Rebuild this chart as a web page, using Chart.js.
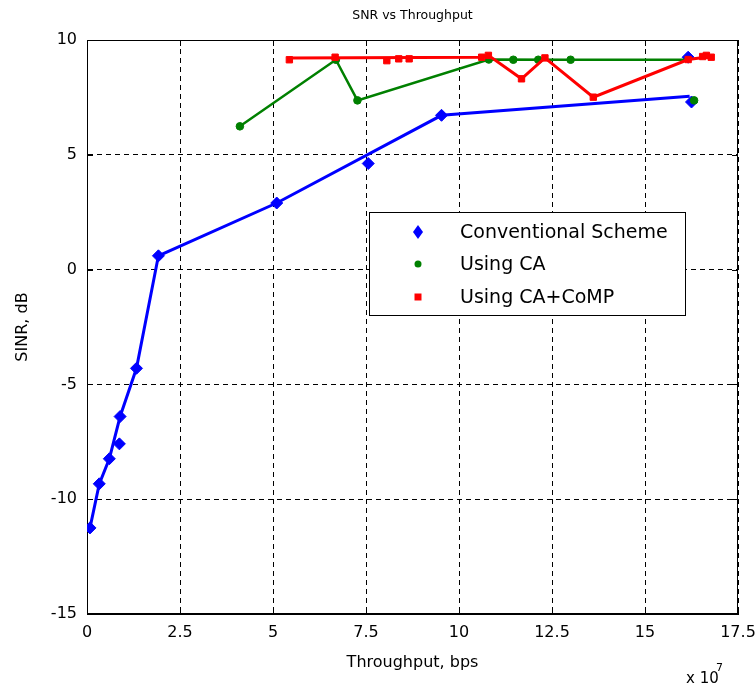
<!DOCTYPE html>
<html lang="en">
  <head>
    <meta charset="UTF-8" />
    <title>SNR vs Throughput</title>
    <script src="https://cdn.jsdelivr.net/npm/chart.js"></script>
    <style>
      html, body { margin: 0; padding: 0; background: #fff; }
    </style>
  </head>
  <body>
    <canvas id="snr-chart" width="756" height="694"></canvas>

    <script>
      // throughput in units of 1e7 bps, SINR in dB
      const xTicks = [0, 2.5, 5, 7.5, 10, 12.5, 15, 17.5];
      const yTicks = [-15, -10, -5, 0, 5, 10];

      // Conventional Scheme
      const convX = [0.08, 0.33, 0.6, 0.87, 0.89, 1.33, 1.92, 5.1, 7.56, 9.53, 16.16, 16.25];
      const convY = [-11.25, -9.33, -8.24, -7.59, -6.4, -4.3, 0.6, 2.9, 4.62, 6.72, 9.25, 7.3];
      const convLineX = [0.08, 0.33, 0.6, 0.89, 1.33, 1.92, 5.1, 9.53, 16.2];
      const convLineY = [-11.25, -9.33, -8.24, -6.4, -4.3, 0.6, 2.9, 6.72, 7.55];

      // Using CA
      const caX = [4.11, 6.69, 7.27, 10.8, 11.46, 12.13, 13.0, 16.32];
      const caY = [6.24, 9.14, 7.37, 9.15, 9.14, 9.14, 9.14, 7.37];
      const caLineX = [4.11, 6.69, 7.27, 10.8, 13.0, 16.2];
      const caLineY = [6.24, 9.14, 7.37, 9.15, 9.14, 9.14];

      // Using CA+CoMP
      const compX = [5.44, 6.67, 8.06, 8.38, 8.66, 10.61, 10.79, 11.68, 12.31, 13.61, 16.16, 16.55, 16.65, 16.78];
      const compY = [9.14, 9.25, 9.1, 9.18, 9.18, 9.25, 9.33, 8.31, 9.22, 7.51, 9.15, 9.28, 9.33, 9.25];
      const compLineX = [5.44, 10.61, 10.79, 11.68, 12.31, 13.61, 16.16, 16.78];
      const compLineY = [9.22, 9.25, 9.33, 8.31, 9.22, 7.51, 9.15, 9.28];

      const seriesNames = ["Conventional Scheme", "Using CA", "Using CA+CoMP"];
      const seriesColors = ["#0000ff", "#008000", "#ff0000"];

      const pts = (xs, ys) => xs.map((x, i) => ({ x: x, y: ys[i] }));
      const FONT = "'DejaVu Sans', Verdana, sans-serif";

      Chart.defaults.color = "#000";
      Chart.defaults.font.family = FONT;

      // frame, inner tick marks, legend box and the x10^7 note
      const matlabBits = {
        id: "matlabBits",
        beforeDatasetsDraw(chart) {
          const { ctx, chartArea: a, scales } = chart;
          ctx.save();
          ctx.strokeStyle = "#000";
          ctx.lineWidth = 1;
          ctx.beginPath();
          xTicks.forEach((v) => {
            const px = Math.round(scales.x.getPixelForValue(v)) + 0.5;
            ctx.moveTo(px, a.bottom); ctx.lineTo(px, a.bottom - 6);
            ctx.moveTo(px, a.top); ctx.lineTo(px, a.top + 6);
          });
          yTicks.forEach((v) => {
            const py = Math.round(scales.y.getPixelForValue(v)) + 0.5;
            ctx.moveTo(a.left, py); ctx.lineTo(a.left + 6, py);
            ctx.moveTo(a.right, py); ctx.lineTo(a.right - 6, py);
          });
          ctx.stroke();
          ctx.strokeRect(Math.round(a.left) + 0.5, Math.round(a.top) + 0.5,
            Math.round(a.width) - 1, Math.round(a.height) - 1);
          ctx.restore();
        },
        afterDraw(chart) {
          const { ctx } = chart;
          ctx.save();
          // legend
          ctx.fillStyle = "#fff";
          ctx.fillRect(369, 212, 316, 103);
          ctx.strokeStyle = "#000";
          ctx.lineWidth = 1;
          ctx.strokeRect(369.5, 212.5, 316, 103);
          const rows = [232, 264, 297];
          ctx.font = "19px " + FONT;
          ctx.textBaseline = "middle";
          rows.forEach((ry, i) => {
            ctx.fillStyle = seriesColors[i];
            ctx.beginPath();
            if (i === 0) {
              ctx.moveTo(418, ry - 7); ctx.lineTo(423, ry);
              ctx.lineTo(418, ry + 7); ctx.lineTo(413, ry);
            } else if (i === 1) {
              ctx.arc(418, ry, 3.5, 0, Math.PI * 2);
            } else {
              ctx.rect(414.5, ry - 3.5, 7, 7);
            }
            ctx.fill();
            ctx.fillStyle = "#000";
            ctx.fillText(seriesNames[i], 460, ry + 1);
          });
          // exponent note
          ctx.font = "15px " + FONT;
          ctx.textBaseline = "alphabetic";
          ctx.fillText("x 10", 686, 683);
          ctx.font = "11px " + FONT;
          ctx.fillText("7", 716, 671);
          ctx.restore();
        },
      };

      const markerSet = (i, xs, ys, style, radius, order) => ({
        label: seriesNames[i],
        data: pts(xs, ys),
        showLine: false,
        pointStyle: style,
        pointRadius: radius,
        pointBackgroundColor: seriesColors[i],
        pointBorderColor: seriesColors[i],
        pointBorderWidth: 1,
        order: order,
      });
      const lineSet = (i, xs, ys, width, order) => ({
        label: seriesNames[i] + " line",
        data: pts(xs, ys),
        showLine: true,
        borderColor: seriesColors[i],
        borderWidth: width,
        pointRadius: 0,
        order: order,
      });

      new Chart(document.getElementById("snr-chart"), {
        type: "scatter",
        data: {
          datasets: [
            markerSet(2, compX, compY, "rect", 4.5, 1),
            lineSet(2, compLineX, compLineY, 3, 2),
            markerSet(1, caX, caY, "circle", 3.8, 3),
            lineSet(1, caLineX, caLineY, 2.5, 4),
            markerSet(0, convX, convY, "rectRot", 6, 5),
            lineSet(0, convLineX, convLineY, 3, 6),
          ],
        },
        options: {
          responsive: false,
          animation: false,
          layout: { padding: 0 },
          plugins: {
            legend: { display: false },
            tooltip: { enabled: false },
            title: {
              display: true,
              text: "SNR vs Throughput",
              fullSize: false,
              font: { size: 12.5, weight: "normal" },
              padding: { top: 8.5, bottom: 16.5 },
            },
          },
          scales: {
            x: {
              type: "linear",
              min: 0,
              max: 17.5,
              afterFit: (s) => { s.height = 80; s.paddingLeft = 0; s.paddingRight = 18; },
              afterBuildTicks: (s) => { s.ticks = xTicks.map((v) => ({ value: v })); },
              ticks: { font: { size: 16 }, padding: 9, maxRotation: 0, callback: (v) => String(v) },
              grid: { color: "#000", lineWidth: 1, drawTicks: false },
              border: { display: true, color: "#000", dash: [5, 4] },
              title: { display: true, text: "Throughput, bps", font: { size: 16 }, padding: { top: 0, bottom: 22 } },
            },
            y: {
              type: "linear",
              min: -15,
              max: 10,
              afterFit: (s) => { s.width = 87; s.paddingTop = 0; s.paddingBottom = 0; },
              afterBuildTicks: (s) => { s.ticks = yTicks.map((v) => ({ value: v })); },
              ticks: { font: { size: 16 }, padding: 10, callback: (v) => String(v) },
              grid: { color: "#000", lineWidth: 1, drawTicks: false },
              border: { display: true, color: "#000", dash: [5, 4] },
              title: { display: true, text: "SINR, dB", font: { size: 16 }, padding: { top: 13, bottom: 0 } },
            },
          },
        },
        plugins: [matlabBits],
      });
    </script>
  </body>
</html>
